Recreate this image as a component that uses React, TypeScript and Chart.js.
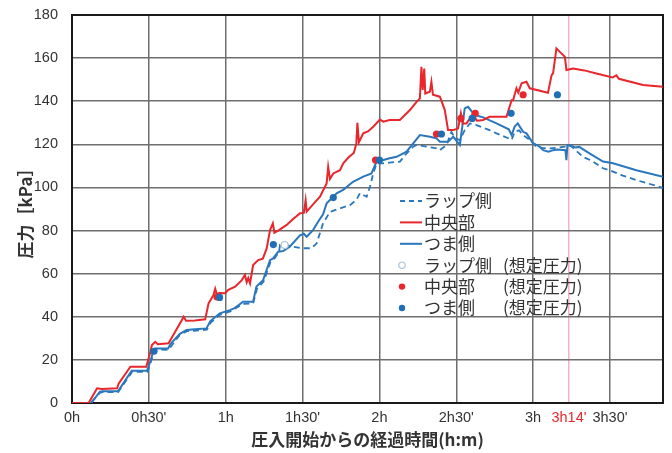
import React, { useEffect, useRef } from "react";
import { Chart, registerables } from "chart.js";

Chart.register(...registerables);

// ---- data (time in minutes, pressure in kPa) ----
const RED_T = [0, 5.7, 6.5, 9.8, 11.7, 17.6, 18.2, 22.8, 29, 30.6, 31.2, 32.5, 33.5, 37.7, 42.9, 43.6, 44.5, 48, 52, 53.3, 55.2, 55.9, 56.5, 57.5, 59.8, 61, 63.7, 66.3, 67.5, 68.2, 68.8, 69.5, 70.7, 72.7, 74.5, 76, 77.3, 78.4, 79, 80.5, 83.8, 86, 89, 90.5, 91.2, 91.6, 94, 96.8, 99.4, 100, 100.7, 102, 104.6, 105.9, 108, 110, 111, 111.4, 112, 113.7, 115.5, 117.6, 120.2, 121.5, 124, 128, 131.9, 134.5, 135.8, 136.4, 136.9, 137.5, 137.9, 139.7, 140.3, 140.9, 143.6, 145.5, 146.8, 148.8, 150.7, 151.8, 152.5, 154, 155.3, 156.6, 158, 160.5, 163, 169.6, 171.6, 172.2, 173.5, 174.2, 175.5, 177.4, 178.7, 185.8, 187.2, 187.8, 189.1, 191, 192.4, 193, 195.6, 200, 204.7, 211, 212.5, 213.5, 222.9, 230.7];
const RED_V = [0, 0, 0, 6.8, 6.5, 6.8, 9, 16.8, 16.8, 23.8, 26.9, 28.4, 27.3, 27.7, 38.5, 40, 38.2, 38.3, 38.8, 46.2, 50, 53, 50.5, 51, 50.9, 52.5, 54, 57, 59.4, 56, 58, 55.5, 64, 66.3, 67, 71.7, 80.2, 83.3, 79, 80, 82.6, 85, 88, 88.2, 94, 88.8, 92, 95.7, 101.9, 109.6, 104, 106.5, 108, 111.2, 114, 116, 120.4, 130, 121, 125.1, 126, 128.2, 131.5, 130.5, 131.3, 131.3, 135.9, 139.7, 141.3, 156, 145.2, 155.2, 143.6, 144.4, 149, 143, 142.1, 136, 126.6, 126.6, 127.4, 134.4, 129.7, 129.7, 132, 134.4, 131, 131.3, 132.8, 132.8, 140.5, 140.5, 146, 144, 148.3, 149, 146, 143.9, 152, 153, 164.5, 162.2, 160.6, 154.5, 155.2, 154.3, 152.9, 151, 152, 150.4, 147.5, 146.7];

const BLUE_T = [0, 7, 7.5, 10.9, 12, 18, 23.3, 29.3, 30.5, 31.7, 32.5, 37.5, 38.5, 42, 44.7, 48, 52.5, 54, 57.7, 61.6, 63.5, 66.8, 70.7, 72, 74.6, 77.3, 78.5, 80.5, 82.4, 85, 89, 90.5, 91.6, 94.1, 96, 98, 99.4, 101, 103.3, 106, 109.7, 113.7, 116.9, 118.9, 121.5, 124, 126.7, 130.6, 133.2, 135.8, 139.7, 142.3, 143.6, 146.8, 148.8, 150.5, 151.4, 153.3, 154.6, 157.2, 160.5, 165.7, 170.5, 171.6, 172.8, 174, 176.1, 177.4, 180, 182.6, 183.9, 186, 187.8, 189.5, 192.6, 193, 193.4, 195.6, 196.5, 198, 202, 207.3, 211.2, 220.3, 230.7];
const BLUE_V = [0, 0, 0, 5.3, 5.5, 5.5, 15, 15, 19, 23.8, 25.3, 25.3, 27.5, 32, 33.9, 34.2, 34.6, 38, 41.6, 43.1, 44, 47, 47, 54, 57, 66.3, 67.1, 70.2, 70.5, 72.5, 77.8, 78.5, 77.1, 80.2, 84, 87.5, 92.6, 94.5, 97.3, 99, 102.6, 105, 106.5, 112, 112.7, 113.5, 114.2, 116.6, 120.5, 124.3, 123.5, 122.8, 121.2, 121.2, 123.5, 121, 119.7, 136.7, 137.4, 133.6, 132.5, 129.7, 127, 124.3, 128.2, 129.7, 125.8, 125.1, 120.5, 118.9, 117.3, 116.6, 117.3, 117.6, 117.3, 112.7, 119.7, 119, 118.5, 118.8, 115.8, 112, 111.2, 108, 105];

const LAP_T = [0, 7.2, 11, 12, 18, 23.5, 29.5, 31.9, 32.8, 37.7, 42, 44.9, 52.6, 54.2, 57.9, 61.8, 66.8, 70.7, 72.2, 74.8, 77.5, 78.7, 80.8, 81.2, 83.8, 86, 90.2, 93.5, 95.5, 98, 100.7, 104.6, 108.5, 111, 112.4, 115, 116.3, 117.6, 118.9, 121.5, 124, 128, 130, 133.2, 134.5, 138.4, 142.3, 143.6, 146.2, 148.1, 149.5, 151.4, 153.3, 155.3, 157.9, 163, 165.7, 170.9, 171.6, 172.8, 174.5, 176.1, 178.7, 181.3, 183.5, 186.5, 190, 192.5, 194.3, 196, 199.4, 203, 207.3, 209.9, 215, 220.3, 225, 230.7];
const LAP_V = [0, 0, 4.8, 5, 5, 14.5, 14.5, 23, 24.8, 24.7, 31.5, 33.3, 34, 37.4, 41, 42.5, 46, 46.2, 53, 56.3, 65.5, 66.5, 70, 73.3, 73.3, 72.5, 71.8, 71.8, 74.1, 83.3, 88.7, 90.3, 91.8, 94.2, 97.3, 95.7, 100.3, 106.5, 111.2, 111.2, 111.5, 112, 115, 118.9, 119.7, 118.9, 118.1, 117.3, 119.7, 125.8, 122.8, 122, 126.6, 129.7, 128.9, 126.6, 125.1, 122.5, 122, 125.8, 126.5, 124.3, 122, 118.9, 118.3, 118.1, 118.5, 118.9, 119.7, 118, 114.2, 112.3, 108.9, 108, 105.5, 103.4, 101.8, 99.8];

const LAP_EST_T = [83];
const LAP_EST_V = [73.3];
const RED_EST_T = [56.6, 118.5, 142.3, 151.8, 157.4, 176.1];
const RED_EST_V = [49.2, 112.7, 124.8, 132, 134.4, 143];
const BLUE_EST_T = [32, 57.6, 78.6, 102, 120, 144.2, 156.2, 171.4, 189.5];
const BLUE_EST_V = [24, 49, 73.5, 95.3, 112.7, 124.8, 132, 134.4, 143];

const X_TICKS = [0, 30, 60, 90, 120, 150, 180, 194, 210];
const X_LABELS = ["0h", "0h30'", "1h", "1h30'", "2h", "2h30'", "3h", "3h14'", "3h30'"];
const MARK_TIME = 194;

const LEGEND_NAMES = ["ラップ側", "中央部", "つま側", "ラップ側", "中央部", "つま側"];
const LEGEND_SUFFIX = ["", "", "", "(想定圧力)", "(想定圧力)", "(想定圧力)"];

const X_TITLE = "圧入開始からの経過時間(h:m)";
const Y_TITLE = "圧力［kPa］";

// ---- styles ----
const RED = "#e8262b";
const BLUE = "#2a77bd";
const BLUE_DOT = "#1f6fb5";
const LIGHT = "#a9c3da";
const PINK = "#f0b4c4";
const GRID = "#6e6e6e";
const TEXT = "#333333";
const LATIN = "'Liberation Sans', Arial, sans-serif";
const CJK = "'Noto Sans CJK JP', 'Noto Sans', sans-serif";

const pts = (t: number[], v: number[]) => t.map((x, i) => ({ x, y: v[i] }));

const boxPlugin = {
  id: "box",
  beforeDatasetsDraw(chart: any) {
    const { ctx, chartArea } = chart;
    const { left, top, right, bottom } = chartArea;
    ctx.save();
    ctx.strokeStyle = "#1a1a1a";
    ctx.lineWidth = 2;
    ctx.strokeRect(left, top, right - left, bottom - top);
    ctx.restore();
  },
};

const legendPlugin = {
  id: "innerLegend",
  afterDraw(chart: any) {
    const { ctx, chartArea } = chart;
    const x0 = chartArea.left + 328;
    const y0 = chartArea.top + 186;
    const dy = 21.4;
    ctx.save();
    ctx.font = `17px ${CJK}`;
    ctx.textBaseline = "middle";
    ctx.fillStyle = TEXT;
    LEGEND_NAMES.forEach((name, i) => {
      const y = y0 + i * dy;
      ctx.save();
      if (i < 3) {
        ctx.strokeStyle = i === 1 ? RED : BLUE;
        ctx.lineWidth = 2;
        ctx.setLineDash(i === 0 ? [5, 4] : []);
        ctx.beginPath();
        ctx.moveTo(x0, y);
        ctx.lineTo(x0 + 22, y);
        ctx.stroke();
      } else {
        ctx.beginPath();
        ctx.arc(x0 + 2, y, 3.2, 0, Math.PI * 2);
        if (i === 3) {
          ctx.strokeStyle = LIGHT;
          ctx.lineWidth = 1.2;
          ctx.fillStyle = "#ffffff";
          ctx.fill();
          ctx.stroke();
        } else {
          ctx.fillStyle = i === 4 ? RED : BLUE_DOT;
          ctx.fill();
        }
      }
      ctx.restore();
      ctx.fillStyle = TEXT;
      ctx.fillText(name, x0 + 24, y);
      if (LEGEND_SUFFIX[i]) ctx.fillText(LEGEND_SUFFIX[i], x0 + 103, y);
    });
    ctx.restore();
  },
};

export default function App() {
  const ref = useRef<HTMLCanvasElement | null>(null);
  useEffect(() => {
    if (!ref.current) return;
    const chart = new Chart(ref.current, {
      type: "line",
      data: {
        datasets: [
          {
            label: "lap",
            data: pts(LAP_T, LAP_V),
            borderColor: BLUE,
            borderWidth: 1.8,
            borderDash: [6, 4],
            pointRadius: 0,
            tension: 0,
            order: 6,
          },
          {
            label: "tsuma",
            data: pts(BLUE_T, BLUE_V),
            borderColor: BLUE,
            borderWidth: 2,
            pointRadius: 0,
            tension: 0,
            order: 5,
          },
          {
            label: "center",
            data: pts(RED_T, RED_V),
            borderColor: RED,
            borderWidth: 2,
            pointRadius: 0,
            tension: 0,
            order: 4,
          },
          {
            label: "lapEst",
            data: pts(LAP_EST_T, LAP_EST_V),
            showLine: false,
            pointRadius: 3.5,
            pointBackgroundColor: "#ffffff",
            pointBorderColor: LIGHT,
            pointBorderWidth: 1.2,
            order: 3,
          },
          {
            label: "centerEst",
            data: pts(RED_EST_T, RED_EST_V),
            showLine: false,
            pointRadius: 3.6,
            pointBackgroundColor: RED,
            pointBorderColor: RED,
            pointBorderWidth: 0,
            order: 2,
          },
          {
            label: "tsumaEst",
            data: pts(BLUE_EST_T, BLUE_EST_V),
            showLine: false,
            pointRadius: 3.6,
            pointBackgroundColor: BLUE_DOT,
            pointBorderColor: BLUE_DOT,
            pointBorderWidth: 0,
            order: 1,
          },
        ],
      },
      options: {
        animation: false,
        responsive: true,
        maintainAspectRatio: false,
        layout: { padding: { left: 0, right: 9, top: 15, bottom: 0 } },
        plugins: { legend: { display: false }, tooltip: { enabled: false } },
        scales: {
          x: {
            type: "linear",
            min: 0,
            max: 230.7,
            afterBuildTicks: (s: any) => {
              s.ticks = X_TICKS.map((v) => ({ value: v }));
            },
            afterFit: (s: any) => {
              s.height = 50;
              s.paddingLeft = 0;
              s.paddingRight = 0;
            },
            ticks: {
              autoSkip: false,
              maxRotation: 0,
              padding: 6,
              font: { family: LATIN, size: 14.5 },
              color: (c: any) => (c.tick && c.tick.value === MARK_TIME ? RED : TEXT),
              callback: (v: any) => {
                const i = X_TICKS.indexOf(Number(v));
                return i >= 0 ? X_LABELS[i] : "";
              },
            },
            grid: {
              drawTicks: false,
              color: (c: any) => (c.tick && c.tick.value === MARK_TIME ? PINK : GRID),
              lineWidth: 1.5,
            },
            border: { display: false },
            title: {
              display: true,
              text: X_TITLE,
              color: TEXT,
              font: { family: CJK, size: 17, weight: "bold" },
              padding: { top: 0, bottom: 3 },
            },
          },
          y: {
            min: 0,
            max: 180,
            afterFit: (s: any) => {
              s.width = 72;
              s.paddingTop = 0;
              s.paddingBottom = 0;
            },
            ticks: {
              stepSize: 20,
              padding: 14,
              font: { family: LATIN, size: 14.5 },
              color: TEXT,
            },
            grid: { drawTicks: false, color: GRID, lineWidth: 1.5 },
            border: { display: false },
            title: {
              display: true,
              text: Y_TITLE,
              color: TEXT,
              font: { family: CJK, size: 17, weight: "bold" },
              padding: { top: 15, bottom: 0 },
            },
          },
        },
      },
      plugins: [boxPlugin, legendPlugin],
    } as any);
    return () => chart.destroy();
  }, []);
  return (
    <div style={{ position: "fixed", left: 0, top: 0, width: 672, height: 453, background: "#fff" }}>
      <canvas ref={ref} />
    </div>
  );
}
